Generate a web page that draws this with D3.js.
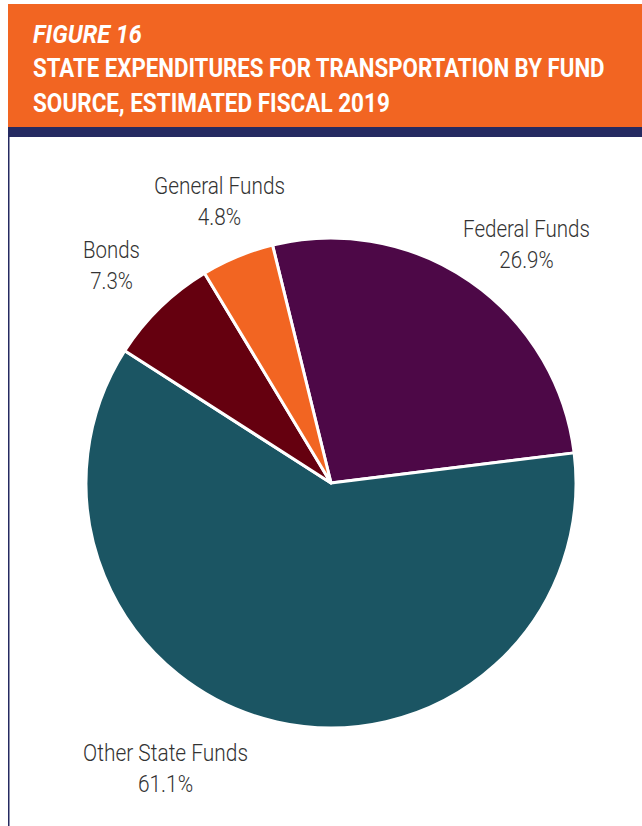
<!DOCTYPE html>
<html>
<head>
<meta charset="utf-8">
<script src="https://cdn.jsdelivr.net/npm/d3@7/dist/d3.min.js"></script>
<style>
  html, body { margin: 0; padding: 0; background: #fff; }
  svg { display: block; }
</style>
</head>
<body>
<script>
// Fund sources and their share of estimated fiscal 2019 transportation spending
const categories = ["Federal Funds", "Other State Funds", "Bonds", "General Funds"];
const shares = [26.9, 61.1, 7.3, 4.8];
const sliceColors = ["#4d0847", "#1b5563", "#65000f", "#f26522"];
const valueLabels = ["26.9%", "61.1%", "7.3%", "4.8%"];

const titleLines = ["FIGURE 16", "STATE EXPENDITURES FOR TRANSPORTATION BY FUND", "SOURCE, ESTIMATED FISCAL 2019"];

const W = 642, H = 826;
const svg = d3.select("body").append("svg").attr("width", W).attr("height", H);

// Header band
svg.append("rect").attr("x", 8).attr("y", 4).attr("width", W - 8).attr("height", 124).attr("fill", "#f26522");
svg.append("rect").attr("x", 8).attr("y", 127).attr("width", W - 8).attr("height", 10).attr("fill", "#252a61");
// Left frame rule
svg.append("rect").attr("x", 8).attr("y", 137).attr("width", 1.5).attr("height", H - 137).attr("fill", "#252a61");

// Condensed header text: each line is squeezed horizontally to its width
const titleSpec = [
  { y: 43, size: 25, italic: true, len: 109 },
  { y: 77, size: 26, italic: false, len: 572 },
  { y: 112, size: 26, italic: false, len: 357 }
];
titleLines.forEach((t, i) => {
  const s = titleSpec[i];
  const txt = svg.append("text").attr("x", 0).attr("y", 0)
    .attr("font-family", "Roboto, sans-serif").attr("font-weight", 700)
    .attr("font-style", s.italic ? "italic" : "normal")
    .attr("font-size", s.size).attr("fill", "#fff")
    .text(t);
  const k = s.len / txt.node().getComputedTextLength();
  txt.attr("transform", `translate(33,${s.y}) scale(${k},1)`);
});

// Pie
const cx = 331, cy = 483, R = 245;
const start = -0.241;
const pie = d3.pie().sort(null).value(d => d).startAngle(start).endAngle(start + 2 * Math.PI);
const arc = d3.arc().innerRadius(0).outerRadius(R);
const arcs = pie(shares);

const g = svg.append("g").attr("transform", `translate(${cx},${cy})`);
g.selectAll("path").data(arcs).join("path")
  .attr("d", arc)
  .attr("fill", (d, i) => sliceColors[i])
  .attr("stroke", "#fff").attr("stroke-width", 3).attr("stroke-linejoin", "round");

// Labels outside each slice: centre x, name baseline, name width
const labelPos = [
  { x: 526.5, y: 237, w: 127 },
  { x: 165.5, y: 761, w: 165 },
  { x: 111.5, y: 258, w: 57 },
  { x: 219.5, y: 194, w: 131 }
];
const lab = svg.append("g")
  .attr("font-family", "Roboto, sans-serif").attr("font-weight", 300)
  .attr("font-size", 24).attr("fill", "#333").attr("text-anchor", "middle");
categories.forEach((c, i) => {
  const p = labelPos[i];
  const name = lab.append("text").attr("x", 0).attr("y", 0).text(c);
  const k = p.w / name.node().getComputedTextLength();
  name.attr("transform", `translate(${p.x},${p.y}) scale(${k},1)`);
  lab.append("text").attr("x", 0).attr("y", 0).text(valueLabels[i])
    .attr("transform", `translate(${p.x},${p.y + 31}) scale(${k},1)`);
});
</script>
</body>
</html>
